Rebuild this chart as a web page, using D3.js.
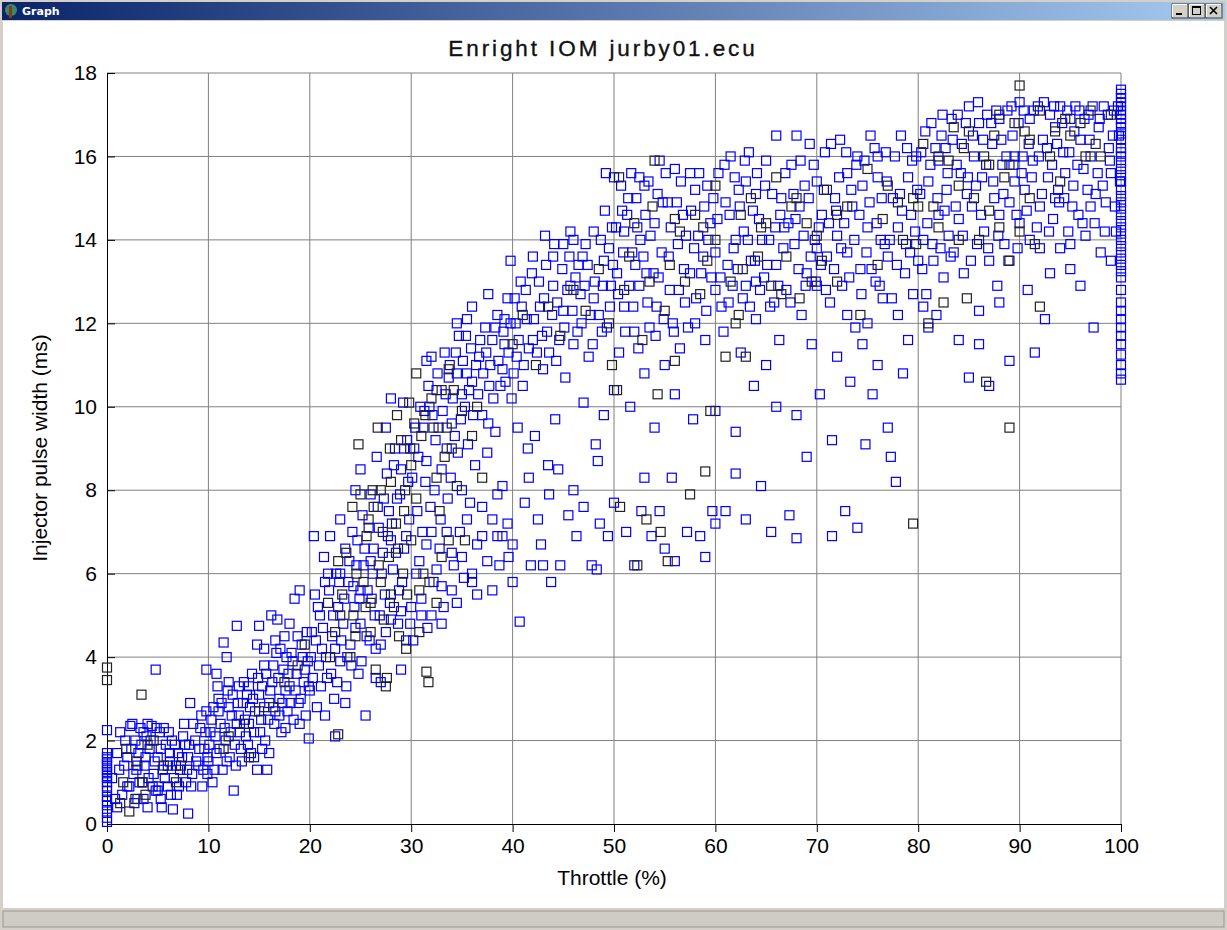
<!DOCTYPE html>
<html>
<head>
<meta charset="utf-8">
<script src="https://cdn.jsdelivr.net/npm/d3@7"></script>
<style>
  body { margin: 0; background: #d4d0c8; }
  svg { display: block; }
</style>
</head>
<body>
<div id="chart"></div>
<script>
// tick labels
const xTicks = [0, 10, 20, 30, 40, 50, 60, 70, 80, 90, 100]
const yTicks = [0, 2, 4, 6, 8, 10, 12, 14, 16, 18]

// throttle (%) vs injector pulse width (ms), blue series
const bluePoints = [
  [0,0.05],[0,0.3],[0,0.55],[0,0.8],[0,1.0],[0,1.15],[0,1.3],[0,1.45],[0,1.6],[0,1.7],[0,2.25],
  [0,0.15],[0,0.45],[0,0.65],[0,0.9],[0,1.1],[0,1.25],[0,1.4],[0,1.55],
  [1.2,1.3],[1.5,0.7],[1.8,2.0],[2,1.6],[2.2,0.9],[2.3,2.35],[2.6,1.2],[2.8,2.0],[3,0.6],[3.1,1.7],[3.3,2.3],[3.5,1.0],
  [3.7,1.4],[3.9,2.1],[4,0.4],[4.2,1.8],[4.4,2.35],[4.6,1.2],[4.8,0.8],[5,1.6],[5.2,2.2],[5.4,0.4],[5.5,1.3],[5.8,1.9],
  [6,0.9],[6.2,1.5],[6.4,2.0],[6.6,1.1],[6.9,0.7],[7,1.7],[7.2,1.3],[7.5,2.1],[7.8,1.0],[8,0.25],[8,1.6],[8.2,2.9],
  [8.4,1.2],[8.7,2.0],[9,1.4],[9.2,2.3],[9.4,0.9],[9.6,1.8],[9.8,2.7],[9.9,1.2],[4.8,3.7],[6.5,0.35],[5.3,0.6],[3.6,2.2],
  [0.5,1.1],[0.8,0.6],[1,1.7],[1.3,2.2],[1.7,1.4],[2,0.9],[2.4,1.8],[2.7,0.5],[2.9,1.3],[3.2,1.0],[3.4,1.9],[3.6,0.6],
  [3.8,1.6],[4.1,1.1],[4.3,2.0],[4.5,0.9],[4.7,1.5],[4.9,2.3],[5.1,0.9],[5.3,1.8],[5.6,2.3],[5.7,1.1],[6,1.4],[6.1,2.2],
  [6.3,0.7],[6.7,1.9],[6.8,1.4],[7.1,0.9],[7.4,1.6],[7.6,2.4],[7.9,1.3],[8.1,1.9],[8.3,0.9],[8.5,2.4],[8.8,1.5],[9.1,1.8],
  [9.3,2.6],[9.5,1.3],[9.7,2.2],[9.9,1.6],[2.5,2.4],[4,2.4],[1,0.4],[6.2,1.7],[7.7,1.9],[3,1.4],[5,0.8],
  [10,1.5],[10.2,2.2],[10.4,1.0],[10.5,2.8],[10.8,1.7],[11,3.0],[11.2,2.4],[11.4,1.3],[11.5,4.35],[11.7,2.0],[11.8,4.0],
  [11.9,3.2],[12.1,1.6],[12.3,2.6],[12.5,0.8],[12.6,1.9],[12.8,4.75],[12.9,2.9],[13.1,2.2],[13.3,1.5],[13.5,3.4],[13.6,2.5],
  [13.9,1.9],[14.1,2.8],[14.3,3.6],[14.5,2.2],[14.8,4.3],[14.8,1.3],[15,3.1],[15,4.75],[15.2,2.5],[15.5,3.8],[15.6,2.0],
  [15.8,1.3],[16,2.9],[16.2,5.0],[16.3,3.4],[16.5,2.4],[16.7,4.1],[16.8,4.9],[17,3.0],[17.2,2.2],[17.4,3.7],[17.5,4.5],
  [17.8,2.7],[18,3.3],[18.2,4.1],[18.4,2.5],[18.5,5.4],[18.7,3.6],[18.9,2.9],[19,5.6],[19.2,4.3],[19.4,3.4],[19.6,2.6],
  [19.8,3.9],[19.9,2.05],[14,3.3],[12,3.4],[10.8,3.6],[9.8,3.7],[16,1.7],[17.6,2.3],[15.3,1.8],[13,2.6],[11,2.7],
  [10.1,1.9],[10.3,2.5],[10.6,1.3],[10.7,2.1],[10.9,3.3],[11.1,1.8],[11.3,2.9],[11.6,2.3],[11.8,1.5],[12,2.8],[12.2,2.2],
  [12.4,3.1],[12.7,1.4],[12.8,2.4],[13,3.3],[13.2,1.8],[13.4,2.9],[13.7,2.1],[13.8,3.1],[14,2.4],[14.2,1.7],[14.4,3.0],
  [14.6,2.7],[14.9,3.5],[15.1,2.2],[15.3,3.3],[15.5,2.8],[15.7,3.6],[15.9,2.5],[16.1,3.2],[16.4,3.8],[16.6,2.7],[16.9,3.5],
  [17.1,4.2],[17.3,2.9],[17.6,3.2],[17.7,4.0],[17.9,3.6],[18.1,2.9],[18.3,3.9],[18.6,3.2],[18.8,4.5],[19.1,3.0],[19.3,4.0],
  [19.5,3.7],[19.7,4.6],[19.9,3.3],[18,4.8],[16.6,4.4],[15.5,4.2],[19,2.4],[17,2.6],[14.5,1.6],
  [20,3.2],[20.2,4.6],[20.4,6.9],[20.5,5.5],[20.7,2.8],[20.9,3.8],[21,5.0],[21.2,4.2],[21.4,6.4],[21.5,2.6],[21.7,3.5],
  [21.9,5.6],[22,6.9],[22.2,4.5],[22.4,3.0],[22.6,6.0],[22.8,5.2],[23,3.9],[23,7.3],[23.3,4.8],[23.5,6.6],[23.6,3.3],
  [23.8,5.8],[24,4.3],[24.2,7.0],[24.4,5.2],[24.6,6.2],[24.8,3.6],[25,8.5],[25,4.8],[25.2,7.4],[25.4,6.6],[25.5,2.6],
  [25.7,5.6],[25.9,4.4],[26,7.9],[26.2,6.0],[26.4,5.0],[26.6,8.8],[26.8,7.1],[27,4.3],[27.2,6.5],[27.4,5.5],[27.6,8.4],
  [27.8,7.5],[28,10.2],[28,4.9],[28.2,6.1],[28.4,9.0],[28.6,7.8],[28.8,5.6],[29,8.5],[29.2,10.1],[29.3,6.6],[29.5,4.4],
  [29.6,9.2],[29.8,7.3],[30,5.2],[24.5,8.0],[23,6.0],[21.5,5.8],[26.5,3.5],[22.5,2.1],[27,3.4],[27.5,9.5],[29,3.7],
  [20.1,4.0],[20.3,3.5],[20.6,4.4],[20.8,5.2],[21.1,3.3],[21.3,4.7],[21.6,4.0],[21.8,6.0],[22.1,3.6],[22.3,5.0],[22.5,4.2],
  [22.7,3.4],[22.9,5.8],[23.1,4.4],[23.4,5.4],[23.7,4.0],[23.9,6.3],[24.1,3.8],[24.3,5.7],[24.5,4.7],[24.7,6.8],[24.9,5.4],
  [25.1,3.9],[25.3,6.2],[25.6,4.5],[25.8,7.1],[26.1,5.4],[26.3,6.6],[26.5,4.2],[26.7,7.6],[26.9,5.0],[27.1,6.0],[27.3,7.8],
  [27.5,4.6],[27.7,6.9],[27.9,5.3],[28.1,7.2],[28.3,8.6],[28.5,6.5],[28.7,4.8],[28.9,7.9],[29.1,5.8],[29.3,9.0],[29.5,6.9],
  [29.7,8.2],[29.9,4.8],[25,5.6],[23.5,2.9],[26,6.3],[28,6.8],[29,5.1],
  [30.3,9.0],[30.6,7.5],[30.8,6.3],[31,5.0],[31.2,9.5],[31.4,8.2],[31.6,4.7],[31.8,10.0],[32,7.0],[32.2,5.8],[32.4,9.2],
  [32.6,10.8],[32.8,6.6],[33,8.5],[33.2,5.2],[33.4,10.3],[33.6,7.8],[33.8,11.0],[34,9.6],[34.2,6.2],[34.4,11.3],[34.6,8.9],
  [34.8,7.0],[35,10.3],[35.2,5.9],[35.4,11.7],[35.6,9.1],[35.8,7.7],[36,10.6],[36,12.4],[36.3,8.6],[36.5,5.5],[36.7,11.2],
  [37,9.8],[37,6.9],[37.3,11.9],[37.5,8.9],[37.7,10.5],[38,7.3],[38,11.6],[38.3,9.4],[38.5,12.2],[38.7,6.2],[39,10.9],
  [39,8.1],[39.2,11.5],[39.5,12.6],[39.6,6.4],[39.8,13.5],[39.9,10.2],[40,5.8],[33,4.8],[34,5.6],[31.5,11.1],[35,8.0],
  [36,6.0],[38.5,6.9],[37.6,12.7],[39.2,12.1],[32,11.2],[34.5,12.0],[35.5,10.8],[30.2,4.4],
  [30.1,8.3],[30.4,9.5],[30.7,8.8],[30.9,10.0],[31.1,7.0],[31.3,9.9],[31.5,8.7],[31.7,10.5],[31.9,7.6],[32.1,9.8],[32.3,8.0],
  [32.5,10.4],[32.7,9.5],[32.9,7.3],[33.1,9.9],[33.3,11.3],[33.5,9.0],[33.7,10.7],[33.9,8.3],[34.1,10.2],[34.3,9.3],
  [34.5,10.8],[34.7,11.7],[34.9,9.7],[35.1,11.1],[35.3,10.0],[35.5,12.1],[35.7,10.4],[35.9,11.4],[36.1,9.8],[36.4,11.0],
  [36.6,10.3],[36.8,11.6],[37.1,10.8],[37.4,11.3],[37.6,9.6],[37.8,11.0],[38.1,10.2],[38.3,11.9],[38.6,11.1],[38.8,10.5],
  [39.1,11.8],[39.3,10.6],[39.6,11.3],[39.8,12.0],
  [30.5,6.0],[31,5.4],[31.5,6.7],[32,5.0],[32.5,6.1],[33,5.7],[33.5,7.0],[34,6.5],[34.5,5.3],[35,6.4],[35.5,7.3],[36,5.8],
  [36.5,6.7],[37,7.6],[37.5,6.3],[38,5.6],[38.5,7.9],[39,6.9],[39.5,7.2],[40,6.7],
  [40.2,12.6],[40.4,11.2],[40.5,9.5],[40.7,4.85],[40.8,13.0],[41,10.5],[41.2,7.7],[41.4,12.1],[41.6,8.3],[41.8,6.2],
  [42,11.6],[42,13.6],[42.2,9.3],[42.5,7.3],[42.7,12.4],[43,10.9],[43,6.2],[43.2,14.1],[43.4,11.8],[43.6,7.9],[43.8,5.8],
  [44,12.9],[44,13.6],[44.3,11.1],[44.5,8.5],[44.7,6.2],[45,12.3],[45,13.9],[45.2,10.7],[45.5,7.4],[45.7,12.9],[46,11.5],
  [46,14.0],[46.3,6.9],[46.5,13.4],[46.8,12.0],[47,7.6],[47.2,13.9],[47.5,11.2],[47.8,6.2],[48,14.2],[48,12.6],[48.2,9.1],
  [48.4,8.7],[48.6,7.2],[48.8,11.8],[49,13.5],[49,9.8],[49.2,15.6],[49.4,6.9],[49.6,12.4],[49.8,14.3],[50,15.5],[50,10.4],
  [50,7.7],[41.5,9.0],[43.5,8.6],[46,8.0],[42.8,6.7],[44.2,9.7],[47,10.1],[45.7,14.2],[48.3,6.1],
  [40.1,10.8],[40.3,12.0],[40.6,11.6],[40.9,12.4],[41.1,11.0],[41.3,12.8],[41.6,11.4],[41.9,13.2],[42.1,12.1],[42.4,11.3],
  [42.6,13.0],[42.9,11.7],[43.1,12.6],[43.3,13.4],[43.6,11.3],[43.9,12.2],[44.1,13.9],[44.4,12.5],[44.6,11.6],[44.9,13.3],
  [45.1,11.9],[45.4,12.8],[45.6,13.6],[45.9,12.3],[46.2,13.1],[46.4,11.8],[46.7,12.7],[46.9,13.6],[47.1,12.9],[47.4,13.4],
  [47.7,12.2],[47.9,11.5],[48.1,13.0],[48.5,12.2],[48.7,14.0],[48.9,12.9],[49.1,14.7],[49.3,11.9],[49.5,13.8],[49.7,12.9],
  [49.9,13.4],
  [50.3,13.2],[50.5,11.3],[50.8,14.7],[51,12.4],[51.2,7.0],[51.4,15.0],[51.6,10.0],[51.8,13.7],[52,6.2],[52,11.8],
  [52.3,14.3],[52.5,12.9],[52.7,7.5],[53,15.3],[53,10.8],[53.2,13.2],[53.5,11.9],[53.7,6.9],[54,14.4],[54,9.5],[54.2,12.4],
  [54.5,15.9],[54.7,13.7],[55,11.0],[55,6.6],[55.3,14.9],[55.5,12.8],[55.7,8.3],[56,15.7],[56,10.3],[56.3,13.9],[56.5,11.4],
  [56.8,14.6],[57,12.5],[57.2,7.0],[57.5,13.2],[57.8,9.7],[58,15.2],[58,12.0],[58.3,14.1],[58.5,6.9],[58.8,13.6],[59,11.6],
  [59,6.4],[59.2,15.3],[59.5,14.4],[59.7,7.5],[60,13.7],[60,9.9],[60,7.2],[52.5,15.5],[51,14.2],[55.8,12.0],[57.5,15.6],
  [53,8.3],[56,6.3],[54.5,7.5],[60,12.8],
  [50.2,14.3],[50.4,12.7],[50.7,15.3],[50.9,13.7],[51.1,11.8],[51.3,14.6],[51.5,12.9],[51.7,15.6],[51.9,12.4],[52.1,13.4],
  [52.2,15.0],[52.4,11.4],[52.6,14.0],[52.9,13.6],[53.1,14.6],[53.3,12.5],[53.4,15.4],[53.6,14.1],[53.9,13.2],[54.1,11.7],
  [54.3,15.1],[54.4,13.1],[54.8,14.9],[54.9,12.1],[55.1,15.6],[55.4,13.6],[55.6,14.3],[55.9,11.8],[56.2,14.9],[56.4,12.8],
  [56.6,15.4],[56.9,13.3],[57.1,14.1],[57.3,11.9],[57.6,14.7],[57.9,13.8],[58.1,12.6],[58.4,15.6],[58.6,13.2],[58.9,14.8],
  [59.1,12.3],[59.3,14.0],[59.6,13.1],[59.8,15.0],
  [60.3,15.6],[60.5,13.1],[60.8,11.8],[61,14.9],[61,7.5],[61.3,12.5],[61.5,16.0],[61.8,13.8],[62,9.4],[62,8.4],[62.3,15.2],
  [62.5,11.3],[62.8,14.2],[63,12.9],[63,7.3],[63.3,16.1],[63.5,13.5],[63.8,10.5],[64,15.1],[64,12.1],[64.3,14.5],[64.5,8.1],
  [64.8,13.1],[65,15.9],[65,11.0],[65.3,14.0],[65.5,7.0],[65.8,12.5],[66,16.5],[66,13.4],[66.3,11.6],[66.5,15.0],[66.8,14.3],
  [67,12.8],[67.3,7.4],[67.5,15.8],[67.8,13.9],[68,9.8],[68,6.85],[68.3,14.8],[68.5,12.2],[68.8,15.3],[69,13.2],[69,8.8],
  [69.3,16.3],[69.5,11.5],[69.8,14.0],[70,15.4],[70,12.9],[70.3,10.3],[70.5,14.6],[70.8,16.1],[71,13.6],[71.3,12.5],
  [71.5,6.9],[71.5,9.2],[71.8,15.0],[72,14.1],[72.3,16.4],[72.5,12.9],[72.8,7.5],[73,15.6],[73,13.7],[73.3,10.6],[73.5,14.8],
  [73.8,11.9],[74,16.0],[74,7.1],[74.3,13.3],[74.5,15.3],[74.8,9.1],[75,14.3],[75,12.0],[75.3,16.5],[75.5,10.3],[75.8,13.0],
  [76,15.5],[76,11.0],[76.3,14.0],[76.5,12.6],[76.8,16.1],[77,13.6],[77.3,8.8],[77.5,15.0],[77.8,8.2],[78,14.3],[78,12.2],
  [78.3,16.5],[78.5,10.8],[78.8,13.9],[79,15.5],[79,11.6],[79.3,14.6],[79.5,12.7],[79.8,16.0],[80,13.5],[62,14.0],[64,13.0],
  [66,10.0],[70,13.8],[72,11.2],[74.5,11.5],[77,9.5],[63,15.4],[68,16.5],[73,12.2],[76,16.0],
  [60.2,14.5],[60.6,12.4],[60.9,15.8],[61.2,13.4],[61.4,14.6],[61.7,12.9],[61.9,15.5],[62.2,13.3],[62.4,14.8],[62.7,12.6],
  [62.9,15.9],[63.2,14.0],[63.4,12.4],[63.7,14.7],[63.9,13.5],[64.1,15.6],[64.4,12.8],[64.6,14.0],[64.9,15.3],[65.1,13.4],
  [65.4,12.4],[65.6,15.1],[65.9,14.3],[66.2,12.9],[66.4,14.6],[66.7,13.8],[66.9,15.6],[67.2,14.4],[67.4,12.5],[67.7,15.1],
  [67.9,14.5],[68.2,13.3],[68.4,15.9],[68.7,14.1],[68.9,12.9],[69.2,15.0],[69.4,13.6],[69.7,15.8],[69.9,13.0],[70.2,14.3],
  [70.4,13.4],[70.7,15.2],[70.9,12.8],[71.2,14.4],[71.4,16.3],[71.7,13.3],[71.9,14.7],[72.2,15.5],[72.4,13.8],[72.7,14.4],
  [72.9,16.1],[73.2,13.1],[73.4,15.2],[73.7,14.0],[73.9,15.8],[74.2,14.6],[74.4,12.7],[74.7,15.9],[74.9,13.7],[75.2,14.9],
  [75.4,13.3],[75.7,16.2],[75.9,14.4],[76.2,12.9],[76.4,15.0],[76.7,13.9],[76.9,15.4],[77.2,14.0],[77.4,12.6],[77.7,16.0],
  [77.9,13.4],[78.2,15.1],[78.4,14.7],[78.7,13.2],[78.9,16.2],[79.2,13.7],[79.4,15.9],[79.7,14.2],[79.9,15.2],
  [80.3,16.1],[80.5,14.0],[80.8,12.7],[81,15.4],[81,11.9],[81.3,16.8],[81.5,13.5],[81.8,12.2],[82,15.9],[82,14.6],[82.3,16.5],
  [82.5,13.1],[82.8,15.2],[83,14.1],[83.3,16.9],[83.5,13.7],[83.8,15.8],[84,14.5],[84,11.6],[84.3,16.3],[84.5,13.2],
  [84.8,15.1],[85,10.7],[85,17.2],[85.3,14.8],[85.5,16.0],[85.8,13.9],[86,16.8],[86,12.3],[86.3,15.5],[86.5,14.2],[86.8,17.0],
  [87,13.5],[87,10.5],[87.3,16.3],[87.5,15.0],[87.8,12.9],[88,16.9],[88,14.6],[88.3,15.8],[88.5,13.9],[88.8,17.1],[89,14.9],
  [89,11.1],[89.3,16.5],[89.5,15.4],[89.8,13.8],[90,17.3],[90,14.4],[90.3,16.0],[90.5,15.2],[90.8,12.8],[91,16.9],[91,14.0],
  [91.3,15.9],[91.5,11.3],[91.8,17.2],[92,14.8],[92.3,16.4],[92.5,12.1],[92.8,15.5],[93,17.0],[93,13.2],[93.3,14.5],
  [93.5,16.7],[93.8,15.2],[94,13.8],[94,17.2],[94.3,16.1],[94.5,15.6],[94.8,14.2],[95,16.9],[95,13.3],[95.3,15.3],[95.5,17.2],
  [95.8,14.6],[96,16.4],[96,12.9],[96.3,15.7],[96.5,14.1],[96.8,17.0],[97,16.0],[97,14.8],[97.3,11.9],[97.5,15.1],[97.8,16.7],
  [98,13.7],[98.3,17.2],[98.5,14.9],[98.8,16.2],[99,15.6],[99,13.5],[99.3,17.1],[99.5,14.2],[99.8,16.5],[80.5,12.4],
  [88,12.5],[95,13.9],[86,11.5],[92,13.8],[89.5,16.0],[82.7,16.2],[93.5,15.0],
  [80.2,15.1],[80.4,13.3],[80.7,16.6],[80.9,14.4],[81.2,15.8],[81.4,13.9],[81.7,16.2],[81.9,15.0],[82.2,13.8],[82.4,17.0],
  [82.6,14.7],[82.9,15.6],[83.2,13.6],[83.4,16.4],[83.7,14.8],[83.9,17.0],[84.2,15.6],[84.4,14.1],[84.7,16.8],[84.9,15.5],
  [85.2,13.5],[85.4,16.5],[85.7,15.3],[85.9,17.3],[86.2,14.6],[86.4,16.4],[86.7,15.8],[86.9,13.8],[87.2,16.8],[87.4,15.4],
  [87.7,17.1],[87.9,14.1],[88.2,16.4],[88.4,15.1],[88.7,16.0],[88.9,13.5],[89.2,17.2],[89.4,15.8],[89.7,14.6],[89.9,16.8],
  [90.2,15.6],[90.4,17.1],[90.7,14.7],[90.9,16.3],[91.2,15.5],[91.4,17.1],[91.7,14.3],[91.9,16.0],[92.2,15.1],[92.4,17.3],
  [92.7,16.2],[92.9,14.2],[93.2,15.8],[93.4,17.2],[93.7,16.3],[93.9,14.9],[94.2,16.8],[94.4,15.0],[94.7,17.1],[94.9,16.1],
  [95.2,14.8],[95.4,16.6],[95.7,15.8],[95.9,17.1],[96.2,14.4],[96.4,16.9],[96.7,15.2],[96.9,16.4],[97.2,17.2],[97.4,14.4],
  [97.7,15.6],[97.9,16.9],[98.2,15.3],[98.4,14.2],[98.7,17.0],[98.9,15.9],[99.2,16.5],[99.4,14.8],[99.7,17.2],[99.9,15.4],
  [100,10.65],[100,11.0],[100,11.5],[100,11.9],[100,12.3],[100,12.8],[100,13.1],[100,13.4],[100,13.7],[100,14.0],[100,14.3],
  [100,14.6],[100,14.9],[100,15.2],[100,15.4],[100,15.7],[100,16.0],[100,16.2],[100,16.4],[100,16.7],[100,16.9],[100,17.1],
  [100,17.3],[100,17.5],[100,17.6],[100,10.8],[100,11.25],[100,11.7],[100,12.1],[100,12.5],[100,13.25],[100,13.55],
  [100,13.85],[100,14.15],[100,14.45],[100,14.75],[100,15.05],[100,15.55],[100,15.85],[100,16.1],[100,16.55],[100,16.8],
  [100,17.0],[100,17.2],[100,17.4]
]

// second series, drawn dark
const darkPoints = [
  [0,3.45],[0,3.75],[1.3,0.5],[1.6,1.0],[2.2,0.3],[2.8,0.6],[3.4,3.1],[3.5,1.0],[4,1.9],[4.6,2.0],[5.6,1.4],[6.8,1.0],
  [2.9,1.5],[1.9,1.8],[7.3,1.4],[3.8,0.7],
  [12,2.1],[13.5,2.4],[15,2.7],[16.4,2.8],[17.5,3.4],[18.8,3.8],[19.5,4.3],[11.5,1.8],[14,1.6],
  [21.8,5.3],[22.5,4.6],[22.8,2.15],[23.2,5.5],[23.6,6.5],[24,4.0],[24.3,5.0],[24.8,9.1],[25,7.9],[25.3,5.8],[25.6,6.9],
  [26,4.6],[26.3,7.6],[26.5,3.7],[26.7,9.5],[27,5.8],[27.2,7.0],[27.5,3.3],[27.6,3.5],[27.8,6.4],[28,8.2],[28.3,5.2],
  [28.5,7.2],[28.8,4.5],[29,9.2],[29.2,6.0],[29.4,8.0],[29.6,5.5],[29.8,10.1],[30,6.8],[30,8.6],[24.6,6.0],[26,5.3],
  [27,8.0],[28,5.5],[22,4.0],
  [23,5.0],[24.5,4.5],[25.5,5.2],[26.8,6.2],[27.3,4.9],[28.7,6.6],[29.3,7.5],[29.9,9.0],[30.3,9.6],[31.4,9.8],[32.2,9.5],
  [33.5,9.5],[34.2,10.4],[25.8,7.3],[24.2,7.6],[22.8,6.3],[26.2,8.0],[27.9,9.0],[28.6,9.8],[30.8,4.6],[29.5,4.2],
  [31.8,5.8],[32.5,5.3],[33,6.4],
  [30.5,10.8],[31,9.3],[31.5,3.65],[31.7,3.4],[32,10.2],[32.5,8.3],[33,10.4],[33.3,8.8],[33.7,10.9],[34,9.0],[34.5,8.1],
  [35,9.9],[35.3,6.8],[36,9.3],[36.5,10.0],[37,8.3],[30.8,5.6],[31.2,6.0],[32.8,7.5],[33.7,6.8],[30.5,7.8],
  [40,11.5],[41,12.2],[42.3,11.0],[43.5,12.4],[44.7,11.7],[46,12.8],[47.2,12.3],[48.5,13.3],[49.5,12.0],[50.5,15.5],[49.8,11.0],
  [50.3,10.4],[50.6,7.6],[51,12.8],[51.5,13.6],[52,14.4],[52.8,11.6],[53.2,7.3],[53.5,13.0],[53.8,14.8],[54,15.9],[54.3,10.3],
  [54.6,7.0],[55,12.3],[55.3,6.3],[55.5,13.4],[56,11.1],[56.5,14.2],[57,13.0],[57.5,7.9],[58,14.6],[58.5,12.7],[59,8.45],
  [59.2,13.5],[59.5,9.9],[60,15.3],[60,14.0],[52.3,6.2],[56,14.5],[58.8,14.3],
  [61,11.2],[61.5,13.0],[62.3,12.2],[62.5,14.6],[63,11.2],[63.5,15.0],[64.2,13.6],[65,14.4],[65.5,12.9],[66,15.5],[67,13.6],
  [67.5,14.8],[68.3,12.6],[69,14.4],[70,14.1],[71,15.2],[72,13.0],[73,14.8],[74.3,12.2],[75,15.7],[76,13.4],[77,15.3],
  [78.5,14.0],[79.5,7.2],[79.5,15.0],[79.8,13.9],[62,12.0],[66.5,12.7],[69.5,13.0],
  [62.7,13.3],[64.5,14.3],[68,15.0],[70.5,13.5],[72,14.6],[76.5,14.5],[78,14.9],[80,14.8],
  [80.5,16.3],[81,12.0],[81.5,14.8],[82,16.0],[82.5,12.5],[83,15.9],[83.5,16.7],[84,14.0],[84.5,16.2],[84.8,12.6],[85.5,15.0],
  [86,14.0],[86.5,16.0],[86.7,10.6],[87,14.7],[87.5,16.5],[88,14.3],[88.5,15.5],[89,9.5],[89,13.5],[89.5,16.8],[90,17.7],
  [90,14.2],[90.5,16.6],[91,15.0],[91.5,13.9],[92,17.1],[92,12.4],[93,16.0],[94,15.4],[95,16.5],[96,16.8],[97.5,16.3],
  [99,17.0],[98,16.0],[82,14.3],[85,16.6],[87,15.8],[88,17.0],[91,16.4],[93.5,16.6],[94.5,16.9],[96.5,16.0],[97,17.1],
  [89,15.8],[84,15.3]
]

const W = 1227, H = 930
const svg = d3.select('#chart').append('svg')
  .attr('width', W)
  .attr('height', H)

// window frame
const defs = svg.append('defs')
const grad = defs.append('linearGradient').attr('id', 'titlebar')
grad.append('stop').attr('offset', '0%').attr('stop-color', '#0a246a')
grad.append('stop').attr('offset', '100%').attr('stop-color', '#a6caf0')

svg.append('rect').attr('width', W).attr('height', H).attr('fill', '#d4d0c8')
svg.append('rect').attr('x', 2).attr('y', 2).attr('width', W - 4).attr('height', 18).attr('fill', 'url(#titlebar)')
svg.append('text').attr('x', 22).attr('y', 15)
  .attr('font-family', 'DejaVu Sans, Verdana, sans-serif').attr('font-size', 11).attr('font-weight', 'bold')
  .attr('fill', '#fff').text('Graph')
// little app icon
svg.append('circle').attr('cx', 11).attr('cy', 10).attr('r', 6).attr('fill', '#3a8a6a')
svg.append('rect').attr('x', 9).attr('y', 6).attr('width', 3).attr('height', 12).attr('fill', '#8a3a1a')

const btnX = [1172, 1189, 1206]
btnX.forEach((bx, i) => {
  const g = svg.append('g').attr('transform', `translate(${bx},4)`)
  g.append('rect').attr('width', 16).attr('height', 14).attr('fill', '#d4d0c8')
    .attr('stroke', '#404040').attr('stroke-width', 1)
  g.append('path').attr('d', 'M0.5,13 V0.5 H15').attr('stroke', '#fff').attr('fill', 'none')
  if (i === 0) g.append('rect').attr('x', 4).attr('y', 9).attr('width', 6).attr('height', 2).attr('fill', '#000')
  if (i === 1) {
    g.append('rect').attr('x', 3.5).attr('y', 2.5).attr('width', 8).attr('height', 8)
      .attr('fill', 'none').attr('stroke', '#000').attr('stroke-width', 1)
    g.append('rect').attr('x', 3).attr('y', 2).attr('width', 9).attr('height', 2).attr('fill', '#000')
  }
  if (i === 2) g.append('path').attr('d', 'M4,3 L11,10 M11,3 L4,10').attr('stroke', '#000').attr('stroke-width', 1.6)
})

// client area and status bar
svg.append('rect').attr('x', 3).attr('y', 21).attr('width', W - 6).attr('height', 887).attr('fill', '#fff')
svg.append('rect').attr('x', 3).attr('y', 911).attr('width', W - 6).attr('height', 16)
  .attr('fill', '#cfccc4').attr('stroke', '#9a978f').attr('stroke-width', 1)

// plot
const x = d3.scaleLinear().domain([0, 100]).range([107, 1121])
const y = d3.scaleLinear().domain([0, 18]).range([824, 73])
const font = 'Liberation Sans, Arial, sans-serif'

const grid = svg.append('g')
grid.selectAll('line.vx').data(xTicks.slice(1)).enter().append('line')
  .attr('x1', d => x(d)).attr('x2', d => x(d)).attr('y1', y(0)).attr('y2', y(18))
  .attr('stroke', '#808080').attr('stroke-width', 1)
grid.selectAll('line.hy').data(yTicks.slice(1)).enter().append('line')
  .attr('x1', x(0)).attr('x2', x(100)).attr('y1', d => y(d)).attr('y2', d => y(d))
  .attr('stroke', '#808080').attr('stroke-width', 1)

const xAxis = svg.append('g').attr('transform', `translate(0,${y(0)})`)
  .call(d3.axisBottom(x).tickValues(xTicks).tickSize(8).tickPadding(6).tickSizeOuter(0))
xAxis.select('.domain').attr('stroke', '#000')
xAxis.selectAll('text').attr('font-family', font).attr('font-size', 21).attr('fill', '#000')

const yAxis = svg.append('g').attr('transform', `translate(${x(0)},0)`)
  .call(d3.axisLeft(y).tickValues(yTicks).tickSize(-8).tickPadding(10).tickSizeOuter(0))
yAxis.select('.domain').attr('stroke', '#000')
yAxis.selectAll('text').attr('font-family', font).attr('font-size', 21).attr('fill', '#000')

const S = 9
svg.append('g').selectAll('rect').data(bluePoints).enter().append('rect')
  .attr('x', d => x(d[0]) - S / 2).attr('y', d => y(d[1]) - S / 2)
  .attr('width', S).attr('height', S)
  .attr('fill', 'none').attr('stroke', '#0000ff').attr('stroke-width', 1.2)
svg.append('g').selectAll('rect').data(darkPoints).enter().append('rect')
  .attr('x', d => x(d[0]) - S / 2).attr('y', d => y(d[1]) - S / 2)
  .attr('width', S).attr('height', S)
  .attr('fill', 'none').attr('stroke', '#222').attr('stroke-width', 1.2)

// labels
svg.append('text').attr('x', 603).attr('y', 56).attr('text-anchor', 'middle')
  .attr('font-family', font).attr('font-size', 22.5).attr('letter-spacing', 2.9)
  .attr('fill', '#111').attr('stroke', '#111').attr('stroke-width', 0.35)
  .text('Enright IOM jurby01.ecu')
svg.append('text').attr('x', 612).attr('y', 885).attr('text-anchor', 'middle')
  .attr('font-family', font).attr('font-size', 21).attr('fill', '#000').text('Throttle (%)')
svg.append('text').attr('transform', 'translate(47,448) rotate(-90)').attr('text-anchor', 'middle')
  .attr('font-family', font).attr('font-size', 21).attr('fill', '#000').text('Injector pulse width (ms)')
</script>
</body>
</html>
